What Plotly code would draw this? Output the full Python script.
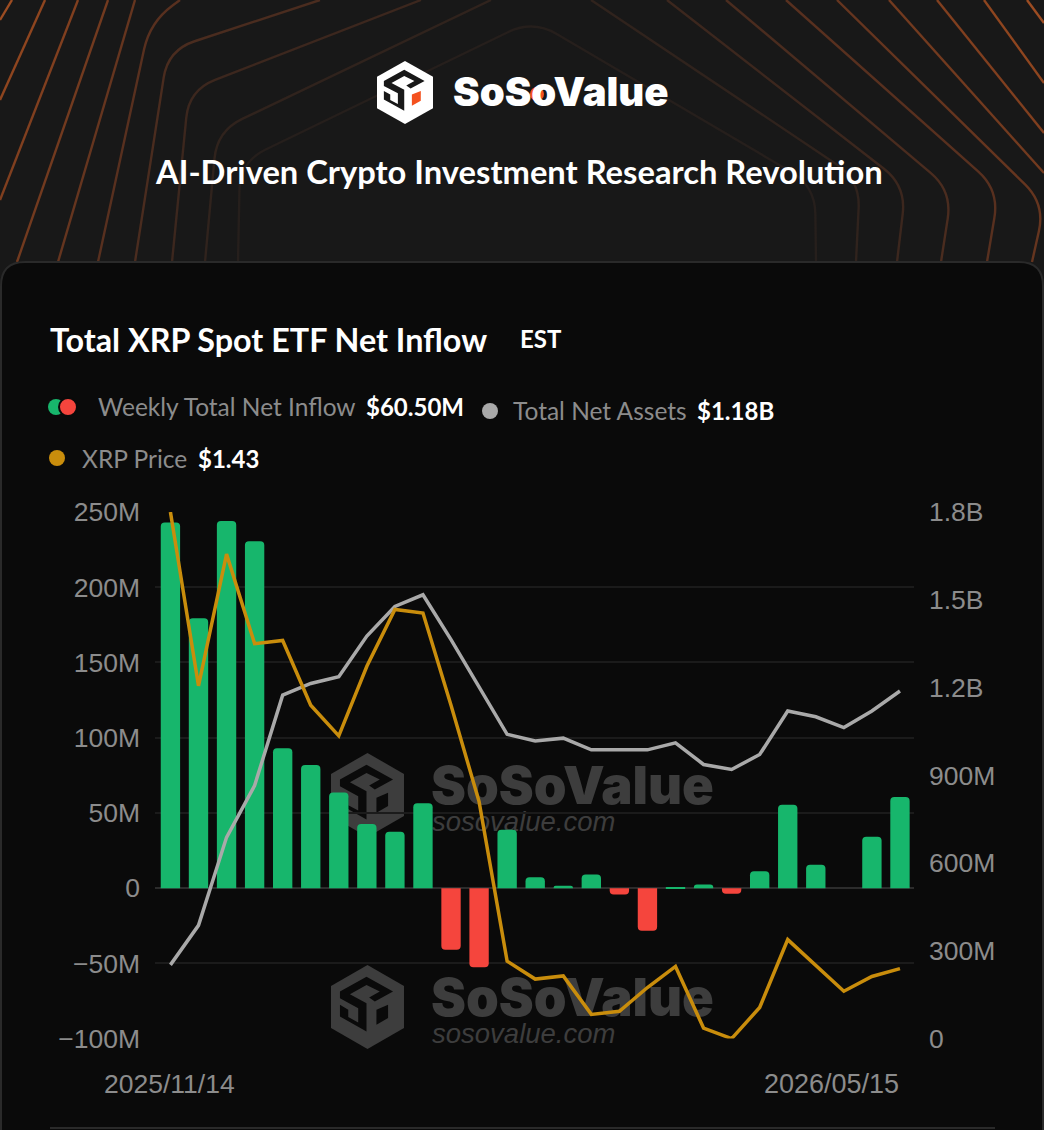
import plotly.graph_objects as go

W = 1044
H = 1130

weeks = ["2025/11/14", "2025/11/21", "2025/11/28", "2025/12/05", "2025/12/12", "2025/12/19", "2025/12/26",
         "2026/01/02", "2026/01/09", "2026/01/16", "2026/01/23", "2026/01/30", "2026/02/06", "2026/02/13",
         "2026/02/20", "2026/02/27", "2026/03/06", "2026/03/13", "2026/03/20", "2026/03/27", "2026/04/03",
         "2026/04/10", "2026/04/17", "2026/04/24", "2026/05/01", "2026/05/08", "2026/05/15"]
# weekly net inflow, $M
net_inflow = [243, 179.4, 244, 230.6, 93, 81.8, 63.5, 42.6, 37.4, 56.4, -41, -52.6, 38.8, 7.3,
              1.6, 9.1, -4.2, -28.4, 0.4, 2.4, -3.8, 11.3, 55.4, 15.5, 0, 34.1, 60.5]
# total net assets, $M
net_assets = [252, 387, 688, 865, 1174, 1214, 1237, 1376, 1477, 1517, 1364, 1200, 1040, 1017,
              1027, 987, 987, 987, 1011, 937, 920, 971, 1120, 1100, 1063, 1120, 1188]
# XRP price, $
xrp_price = [2.30, 1.97, 2.22, 2.05, 2.056, 1.933, 1.875, 2.007, 2.115, 2.108, 1.933, 1.75, 1.447, 1.413,
             1.419, 1.346, 1.352, 1.397, 1.437, 1.32, 1.30, 1.359, 1.488, 1.439, 1.39, 1.418, 1.433]

left_ticks = [-100, -50, 0, 50, 100, 150, 200, 250]
left_labels = ["−100M", "−50M", "0", "50M", "100M", "150M", "200M", "250M"]
right_ticks = [0, 300, 600, 900, 1200, 1500, 1800]
right_labels = ["0", "300M", "600M", "900M", "1.2B", "1.5B", "1.8B"]

GREEN = "#17b66c"
RED = "#f5453d"
ORANGE = "#c98d0c"
GREY = "#a9a9a9"
LABEL = "#8c8c8c"
CARD = "#0a0a0a"
WM = "#3d3d3d"
TICK_FONT = "Liberation Sans"
TEXT_FONT = "Lato"


def px(x):
    return x / W


def py(y):
    return 1 - y / H


def rounded_path(pts, r):
    """SVG path in paper coords through pixel points, corners rounded by r."""
    out = ["M%.5f,%.5f" % (px(pts[0][0]), py(pts[0][1]))]
    for i in range(1, len(pts) - 1):
        x0, y0 = pts[i - 1]
        x1, y1 = pts[i]
        x2, y2 = pts[i + 1]
        d1 = ((x0 - x1) ** 2 + (y0 - y1) ** 2) ** 0.5
        d2 = ((x2 - x1) ** 2 + (y2 - y1) ** 2) ** 0.5
        ax, ay = x1 + (x0 - x1) * r / d1, y1 + (y0 - y1) * r / d1
        bx, by = x1 + (x2 - x1) * r / d2, y1 + (y2 - y1) * r / d2
        out.append("L%.5f,%.5f" % (px(ax), py(ay)))
        out.append("Q%.5f,%.5f %.5f,%.5f" % (px(x1), py(y1), px(bx), py(by)))
    out.append("L%.5f,%.5f" % (px(pts[-1][0]), py(pts[-1][1])))
    return " ".join(out)


def poly(pts):
    return "M" + " L".join("%.5f,%.5f" % (px(x), py(y)) for x, y in pts) + " Z"


shapes = []

# header line pattern, outermost first
header_lines = [
    ("#9c4c22", [(0, 20), (12, 0)]),
    ("#9c4c22", [(1027, 0), (1044, 23)]),
    ("#8e451f", [(0, 100), (45, 0)]),
    ("#8e451f", [(984, 0), (1044, 83)]),
    ("#803f1f", [(0, 200), (78, 0)]),
    ("#803f1f", [(937, 0), (1044, 133)]),
    ("#723a1f", [(17, 262), (108, 0)]),
    ("#723a1f", [(889, 0), (1044, 173)]),
    ("#65351f", [(58, 262), (135, 0)]),
    ("#65351f", [(837, 0), (1045, 204), (1032, 262)]),
    ("#58301f", [(98, 262), (150, 22), (180, 0)]),
    ("#58301f", [(786, 0), (999, 190), (987, 262)]),
    ("#4a2c1f", [(135, 262), (168, 50), (320, 0)]),
    ("#4a2c1f", [(726, 0), (952, 191), (941, 262)]),
    ("#3c271e", [(172, 262), (189, 90), (421, 0)]),
    ("#3c271e", [(667, 0), (906, 186), (897, 262)]),
    ("#30231d", [(205, 262), (217, 131), (491, 0)]),
    ("#30231d", [(591, 0), (860, 180), (856, 262)]),
    ("#261f1c", [(238, 262), (240, 162), (533, 20), (815, 186), (816, 262)]),
]
for colour, pts in header_lines:
    shapes.append(dict(type="path", xref="paper", yref="paper", layer="below",
                       path=rounded_path(pts, 28), line=dict(color=colour, width=2.4)))

# card
shapes.append(dict(type="path", xref="paper", yref="paper", layer="below",
                   path=rounded_path([(1, 1140), (1, 262), (1043, 262), (1043, 1140)], 24),
                   fillcolor=CARD, line=dict(color="#2a2a2a", width=2)))
shapes.append(dict(type="line", xref="paper", yref="paper", layer="below",
                   x0=px(50), x1=px(995), y0=py(1128), y1=py(1128), line=dict(color="#2a2a2a", width=2)))


# logo, outlines (hexagon 220x253 in crop units)
HEX = [(128, 15), (238, 78), (238, 205), (128, 268), (18, 205), (18, 78)]
SPIRAL = [(45, 95), (125, 50), (205, 95), (150, 125), (133, 113), (165, 95), (125, 75), (75, 103), (125, 130),
          (125, 215), (45, 170), (45, 135), (70, 150), (70, 172), (100, 188), (100, 145), (45, 115)]
WINDOW = [(155, 150), (190, 135), (190, 175), (155, 195)]


def add_logo(x, y, w, h, body, hole, window):
    def place(pts):
        return [(x + (a - 18) / 220 * w, y + (b - 15) / 253 * h) for a, b in pts]
    for pts, colour in ((HEX, body), (SPIRAL, hole), (WINDOW, window)):
        shapes.append(dict(type="path", xref="paper", yref="paper", layer="below", path=poly(place(pts)),
                           fillcolor=colour, line=dict(width=0)))


add_logo(377, 61, 56, 63, "#ffffff", "#181818", "#f4511e")
# shows through the counter of the second "o"
shapes.append(dict(type="circle", xref="paper", yref="paper", layer="below", x0=px(530), x1=px(544), y0=py(87), y1=py(101),
                   fillcolor="#f4511e", line=dict(width=0)))

# watermarks sit under the grid and the marks
for top in (753, 965):
    add_logo(331, top, 73, 84, WM, CARD, CARD)
    shapes.append(dict(type="rect", xref="paper", yref="paper", layer="below",
                       x0=px(428), x1=px(731), y0=py(top + 3), y1=py(top + 58),
                       line=dict(width=0), fillcolor="rgba(0,0,0,0)",
                       label=dict(text="SoSoValue", textposition="middle left", padding=0,
                                  font=dict(family="Inter", size=52.5, color=WM, weight=900))))
    shapes.append(dict(type="rect", xref="paper", yref="paper", layer="below",
                       x0=px(429), x1=px(700), y0=py(top + 51), y1=py(top + 81),
                       line=dict(width=0), fillcolor="rgba(0,0,0,0)",
                       label=dict(text="<i>sosovalue.com</i>", textposition="middle left", padding=0,
                                  font=dict(family=TICK_FONT, size=27.5, color=WM))))


def dot(cx, cy, r, colour, ring=None):
    line = dict(color=ring, width=2) if ring else dict(width=0)
    shapes.append(dict(type="circle", xref="paper", yref="paper", x0=px(cx - r), x1=px(cx + r),
                       y0=py(cy + r), y1=py(cy - r), fillcolor=colour, line=line))


dot(56, 407, 8, GREEN)
dot(68, 407, 9, RED, ring=CARD)
dot(490, 411, 8, GREY)
dot(57, 458, 8, ORANGE)

annotations = []


def label(x, y, text, size, colour="#ffffff", anchor="left", weight=400, family=TEXT_FONT):
    annotations.append(dict(x=px(x), y=py(y), xref="paper", yref="paper", text=text, showarrow=False,
                            xanchor=anchor, yanchor="middle",
                            font=dict(family=family, size=size, color=colour, weight=weight)))


label(451, 92, "SoSoValue", 40, weight=900, family="Inter")
label(518.5, 172, "AI-Driven Crypto Investment Research Revolution", 32.7, anchor="center", weight=700)
label(48, 339, "Total XRP Spot ETF Net Inflow", 32.3, weight=700)
label(518, 338, "EST", 24, weight=700)
label(96, 406, "Weekly Total Net Inflow", 24.5, LABEL)
label(364, 406, "$60.50M", 24, weight=700)
label(511, 410, "Total Net Assets", 24.5, LABEL)
label(695, 410, "$1.18B", 24, weight=700)
label(80, 458, "XRP Price", 24.5, LABEL)
label(196, 458, "$1.43", 24, weight=700)
label(170, 1084, weeks[0], 26.5, LABEL, anchor="center", family=TICK_FONT)
label(901, 1084, weeks[-1], 27, LABEL, anchor="right", family=TICK_FONT)

fig = go.Figure()
fig.add_trace(go.Bar(x=weeks, y=net_inflow, name="Weekly Total Net Inflow",
                     marker=dict(color=[GREEN if v >= 0 else RED for v in net_inflow], cornerradius=4, line=dict(width=0))))
fig.add_trace(go.Scatter(x=weeks, y=net_assets, name="Total Net Assets", yaxis="y2", mode="lines",
                         line=dict(color=GREY, width=3.5), cliponaxis=False))
fig.add_trace(go.Scatter(x=weeks, y=xrp_price, name="XRP Price", yaxis="y3", mode="lines",
                         line=dict(color=ORANGE, width=3.5), cliponaxis=False))

tick_font = dict(family=TICK_FONT, size=26.5, color=LABEL)
dom_y = [py(1038.6), py(512)]

fig.update_layout(
    width=W,
    height=H,
    autosize=False,
    margin=dict(l=0, r=0, t=0, b=0, autoexpand=False),
    paper_bgcolor="#181818",
    plot_bgcolor="rgba(0,0,0,0)",
    showlegend=False,
    bargap=0.31,
    shapes=shapes,
    annotations=annotations,
    xaxis=dict(type="category", domain=[px(155), px(914)], range=[-0.55, 26.5], showgrid=False,
               showticklabels=False, ticks="", zeroline=False, showline=False),
    yaxis=dict(domain=dom_y, range=[-100, 250], tickvals=left_ticks, ticktext=left_labels, tickfont=tick_font,
               showgrid=True, gridcolor="#1b1b1b", gridwidth=1.5, zeroline=True, zerolinecolor="#2c2c2c", zerolinewidth=2,
               ticklabelstandoff=14, ticks="", showline=False),
    yaxis2=dict(domain=dom_y, range=[0, 1800], overlaying="y", side="right", tickvals=right_ticks, ticktext=right_labels,
                tickfont=tick_font, showgrid=False, zeroline=False, ticklabelstandoff=14, ticks="", showline=False),
    yaxis3=dict(domain=dom_y, range=[1.30, 2.30], overlaying="y", visible=False),
)

fig.write_html("out.html", config=dict(displayModeBar=False),
               post_script="document.body.style.margin='0';document.body.style.overflow='hidden';")
